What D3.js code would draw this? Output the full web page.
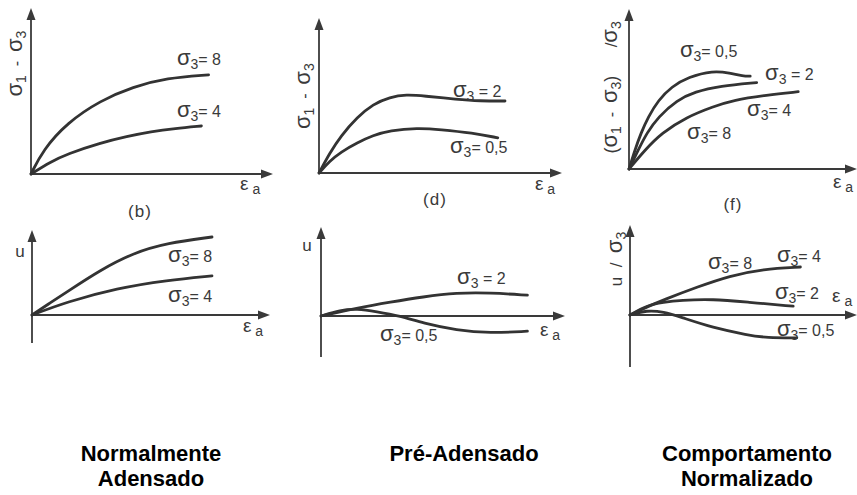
<!DOCTYPE html>
<html lang="pt">
<head>
<meta charset="UTF-8">
<title>Comportamento em ensaios triaxiais</title>
<style>
  body { margin: 0; background: #fff; }
  svg { display: block; font-family: "Liberation Sans", Arial, sans-serif; }
  .axis { stroke: #3a3a3a; stroke-width: 1.8; fill: none; }
  .arrow { fill: #3a3a3a; }
  .curve { stroke: #333; stroke-width: 2.8; fill: none; stroke-linecap: round; }
  .lbl { fill: #3a3a3a; }
  .caption { font-weight: bold; font-size: 22px; fill: #000; text-anchor: middle; }
</style>
</head>
<body>
<svg width="857" height="495"></svg>
<script src="https://d3js.org/d3.v7.min.js"></script>
<script>
// curves, [strain, value] in relative units (axis = 0..10)
// normalmente adensado
const ncDev8 = [[0,0],[0.5,1.5],[1.5,3.2],[2.9,4.6],[4.25,5.45],[5.65,6.0],[7.4,6.2]];
const ncDev4 = [[0,0],[0.8,0.75],[1.5,1.25],[2.9,1.95],[4.0,2.35],[5.0,2.65],[6.0,2.85],[7.1,3.0]];
const ncU8 = [[0,0],[0.75,1.5],[1.46,2.9],[2.83,5.6],[4.21,7.75],[5.63,9.0],[7.5,9.75]];
const ncU4 = [[0,0],[1.46,1.65],[3.54,3.35],[5.63,4.35],[7.5,4.9]];
// pre-adensado
const ocDev2 = [[0,0],[0.45,1.25],[0.9,2.3],[1.6,3.5],[2.25,4.3],[2.95,4.75],[3.65,4.9],[4.35,4.82],[5.75,4.6],[6.7,4.5],[7.75,4.5]];
const ocDev05 = [[0,0],[0.45,0.75],[0.9,1.3],[1.6,1.9],[2.25,2.35],[2.95,2.65],[4.1,2.82],[5.05,2.72],[6.4,2.5],[7.45,2.2]];
const ocU2 = [[0,0],[1.5,1.0],[2.9,1.75],[4.25,2.4],[5.65,2.9],[7.05,2.9],[8.6,2.6]];
const ocU05 = [[0,0],[0.8,0.75],[1.5,0.9],[2.3,0.55],[3.3,0],[4.25,-0.9],[5.65,-1.8],[7.05,-2.15],[8.6,-1.9]];
// normalizado
const nmDev05 = [[0,0],[0.25,1.2],[0.5,2.25],[0.8,3.25],[1.22,4.3],[1.78,5.15],[2.47,5.75],[3.5,6.15],[4.2,6.0],[4.75,5.8],[5.05,5.8]];
const nmDev2 = [[0,0],[0.39,1.2],[0.74,2.25],[1.22,3.25],[1.99,4.3],[2.75,4.83],[3.79,5.19],[5.32,5.4]];
const nmDev4 = [[0,0],[0.67,1.2],[1.36,2.25],[2.4,3.25],[3.51,3.9],[4.35,4.31],[5.74,4.62],[7.05,4.83]];
const nmU4 = [[0,0],[0.7,1.0],[1.4,1.9],[2.8,3.5],[4.15,4.9],[5.55,5.75],[7.1,6.0]];
const nmU2 = [[0,0],[0.7,1.2],[1.4,1.6],[2.1,1.85],[3.45,2.0],[4.9,1.6],[6.8,1.1]];
const nmU05 = [[0,0],[0.7,0.6],[1.4,0.4],[2.1,-0.25],[3.45,-1.6],[4.9,-2.5],[5.7,-2.85],[6.95,-2.85]];

const captions = [["Normalmente", "Adensado"], ["Pré-Adensado"], ["Comportamento", "Normalizado"]];

// text pieces: [text, font size, baseline shift]
const sig = (n) => [["σ", 22, 0], [n, 14, 4]];
const devLabel = [...sig("1"), ["  -  ", 16, 0], ...sig("3")];
const normLabel = [["(", 18, 0], ...sig("1"), ["  -  ", 16, 0], ...sig("3"), [")", 18, 0], ["      /", 17, 0], ...sig("3")];
const uNormLabel = [["u  /  ", 17, 0], ...sig("3")];

const panels = [
  { ox: 31, oy: 174, top: 8, bottom: 174, xEnd: 273, ky: 16,
    curves: [ncDev8, ncDev4],
    labels: [[6.08, 6.81, "= 8"], [6.08, 3.56, "= 4"]],
    ylab: [-0.38, 6.9, devLabel], ea: [8.71, -1.0], tag: [4.54, -2.69, "(b)"] },
  { ox: 319, oy: 173, top: 18, bottom: 173, xEnd: 562, ky: 16,
    curves: [ocDev2, ocDev05],
    labels: [[5.58, 4.75, " = 2"], [5.46, 1.25, "= 0,5"]],
    ylab: [-0.38, 4.8, devLabel], ea: [9.0, -1.06], tag: [4.83, -2.0, "(d)"] },
  { ox: 629, oy: 169, top: 9, bottom: 169, xEnd: 857, ky: 16,
    curves: [nmDev05, nmDev2, nmDev4],
    labels: [[2.12, 7.0, "= 0,5"], [5.67, 5.56, " = 2"], [4.92, 3.31, "= 4"], [2.42, 1.87, "= 8"]],
    ylab: [-0.5, 5.1, normLabel], ea: [8.5, -1.19], tag: [4.33, -2.56, "(f)"] },
  { ox: 32, oy: 315, top: 230, bottom: 343, xEnd: 270, ky: 8,
    curves: [ncU8, ncU4],
    labels: [[5.67, 6.62, "= 8"], [5.67, 1.62, "= 4"]],
    ulab: [-0.5, 7.25], ea: [8.79, -2.12] },
  { ox: 321, oy: 316, top: 227, bottom: 357, xEnd: 565, ky: 8,
    curves: [ocU2, ocU05],
    labels: [[5.67, 4.0, " = 2"], [2.46, -3.12, "= 0,5"]],
    ulab: [-0.58, 8.1], ea: [9.12, -2.5] },
  { ox: 630, oy: 315, top: 225, bottom: 367, xEnd: 857, ky: 8,
    curves: [nmU4, nmU2, nmU05],
    labels: [[3.25, 5.75, "= 8"], [6.12, 6.62, "= 4"], [6.04, 2.0, "= 2"], [6.12, -2.62, "= 0,5"]],
    ylab: [-0.33, 7.0, uNormLabel], ea: [8.42, 1.62] }
];

const svg = d3.select("svg");

function rich(text, parts) {
  let shift = 0;
  parts.forEach(([s, size, b]) => {
    text.append("tspan")
      .attr("font-size", size)
      .attr("dy", b - shift)
      .text(s);
    shift = b;
  });
  return text;
}

panels.forEach(p => {
  const g = svg.append("g");
  const x = d3.scaleLinear().domain([0, 10]).range([p.ox, p.ox + 240]);
  const y = d3.scaleLinear().domain([0, 10]).range([p.oy, p.oy - p.ky * 10]);

  // axes with arrow heads
  g.append("line").attr("class", "axis")
    .attr("x1", p.ox).attr("y1", p.bottom).attr("x2", p.ox).attr("y2", p.top + 8);
  g.append("line").attr("class", "axis")
    .attr("x1", p.ox).attr("y1", p.oy).attr("x2", p.xEnd - 8).attr("y2", p.oy);
  g.append("path").attr("class", "arrow")
    .attr("d", `M${p.ox},${p.top}L${p.ox - 4.5},${p.top + 12}L${p.ox + 4.5},${p.top + 12}Z`);
  g.append("path").attr("class", "arrow")
    .attr("d", `M${p.xEnd},${p.oy}L${p.xEnd - 12},${p.oy - 4.5}L${p.xEnd - 12},${p.oy + 4.5}Z`);

  const line = d3.line()
    .x(d => x(d[0]))
    .y(d => y(d[1]))
    .curve(d3.curveBasis);

  g.selectAll(".curve").data(p.curves).enter().append("path")
    .attr("class", "curve")
    .attr("d", line);

  p.labels.forEach(([lx, ly, rest]) => {
    const t = g.append("text").attr("class", "lbl").attr("x", x(lx)).attr("y", y(ly));
    rich(t, [...sig("3"), [rest, 16, 0]]);
  });

  if (p.ylab) {
    const [yx, yy, parts] = p.ylab;
    const yt = g.append("text").attr("class", "lbl")
      .attr("text-anchor", "middle")
      .style("white-space", "pre")
      .attr("transform", `translate(${x(yx)},${y(yy)}) rotate(-90)`);
    rich(yt, parts);
  }
  if (p.ulab) {
    g.append("text").attr("class", "lbl")
      .attr("x", x(p.ulab[0])).attr("y", y(p.ulab[1]))
      .attr("text-anchor", "middle")
      .attr("font-size", 17)
      .text("u");
  }

  const et = g.append("text").attr("class", "lbl").attr("x", x(p.ea[0])).attr("y", y(p.ea[1]));
  rich(et, [["ε", 19, 0], [" a", 14, 4]]);

  if (p.tag) {
    g.append("text").attr("class", "lbl")
      .attr("x", x(p.tag[0])).attr("y", y(p.tag[1]))
      .attr("text-anchor", "middle")
      .attr("font-size", 17)
      .attr("letter-spacing", 1)
      .text(p.tag[2]);
  }
});

// captions under each column
const capX = [151, 464, 747];
captions.forEach((lines, i) => {
  const t = svg.append("text").attr("class", "caption").attr("y", 461);
  lines.forEach((s, j) => {
    t.append("tspan").attr("x", capX[i]).attr("dy", j ? 25 : 0).text(s);
  });
});
</script>
</body>
</html>
